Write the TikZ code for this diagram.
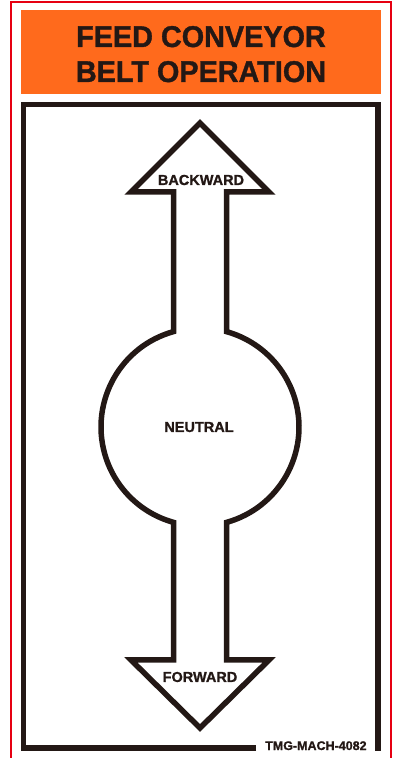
\documentclass[tikz,border=0pt]{standalone}
\usepackage{fontspec}
\setmainfont{Liberation Sans}[BoldFeatures={FakeBold=1.2}]
\definecolor{inkblack}{HTML}{231815}
\definecolor{signorange}{HTML}{FF6A1C}
\definecolor{signred}{HTML}{E60012}
\begin{document}
\begin{tikzpicture}[x=1pt,y=1pt,
  titletext/.style={inner sep=0pt, anchor=base, text=inkblack, font=\fontsize{30}{30}\selectfont\bfseries},
  labeltext/.style={inner sep=0pt, anchor=base, text=inkblack, font=\fontsize{14.5}{14.5}\selectfont\bfseries},
  codetext/.style={inner sep=0pt, anchor=base west, text=inkblack, font=\fontsize{12.5}{12.5}\selectfont\bfseries},
  heavyline/.style={draw=inkblack, line width=5.5pt, miter limit=10, line join=miter}]
\useasboundingbox (0,0) rectangle (395,758);
% red outer border (open at bottom)
\draw[signred, line width=2pt] (11,0) -- (11,756) -- (391,756) -- (391,0);
% orange title band
\fill[signorange] (21,664) rectangle (381,748);
\node[titletext] (t1) at (201,711) {\scalebox{0.96}[1]{FEED CONVEYOR}};
\node[titletext] (t2) at (201,676) {\scalebox{0.96}[1]{BELT OPERATION}};
% black frame, bottom broken for code
\draw[heavyline] (256,10) -- (23.3,10) -- (23.3,653.5) -- (378,653.5) -- (378,7);
% double arrow with neutral circle
\draw[heavyline]
  (200,635) -- (131,566) -- (173.5,566) -- (173.5,426.4)
  arc[start angle=105.53, end angle=254.47, radius=99]
  -- (173.5,98) -- (131,98) -- (200,30) -- (269,98) -- (226.5,98) -- (226.5,235.6)
  arc[start angle=-74.47, end angle=74.47, radius=99]
  -- (226.5,566) -- (269,566) -- cycle;
\node[labeltext] (back) at (201,573) {BACKWARD};
\node[labeltext] (neu) at (199,326) {NEUTRAL};
\node[labeltext] (fwd) at (200,76) {FORWARD};
\node[codetext] (code) at (265,8) {TMG-MACH-4082};
\end{tikzpicture}
\end{document}
